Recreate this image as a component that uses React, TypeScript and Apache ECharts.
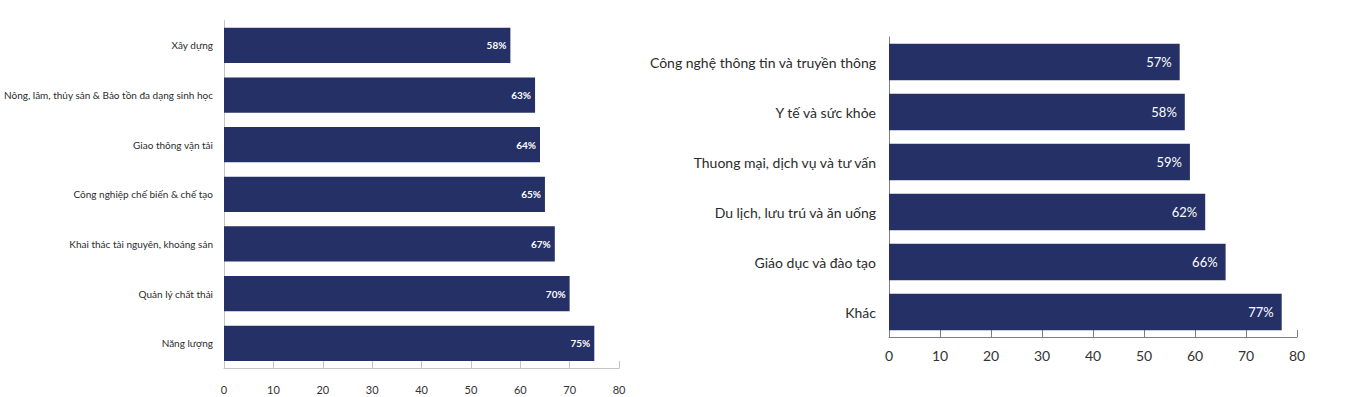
import React, { useEffect, useRef } from "react";
import * as echarts from "echarts";

const leftCategories = [
  "Xây dựng",
  "Nông, lâm, thủy sản & Bảo tồn đa dạng sinh học",
  "Giao thông vận tải",
  "Công nghiệp chế biến & chế tạo",
  "Khai thác tài nguyên, khoáng sản",
  "Quản lý chất thải",
  "Năng lượng",
];
const leftValues = [58, 63, 64, 65, 67, 70, 75];

const rightCategories = [
  "Công nghệ thông tin và truyền thông",
  "Y tế và sức khỏe",
  "Thuong mại, dịch vụ và tư vấn",
  "Du lịch, lưu trú và ăn uống",
  "Giáo dục và đào tạo",
  "Khác",
];
const rightValues = [57, 58, 59, 62, 66, 77];

const axisMin = 0;
const axisMax = 80;
const axisInterval = 10;

const BAR = "#243066";
const FONT = "Lato, 'Open Sans', sans-serif";

export default function App() {
  const ref = useRef<HTMLDivElement>(null);
  useEffect(() => {
    if (!ref.current) return;
    const chart = echarts.init(ref.current, null, { renderer: "svg" });
    chart.setOption({
      animation: false,
      backgroundColor: "#ffffff",
      textStyle: { fontFamily: FONT },
      grid: [
        { left: 224, top: 20.6, width: 395, height: 347.5, containLabel: false, outerBoundsMode: "none" },
        { left: 889, top: 37, width: 408, height: 300, containLabel: false, outerBoundsMode: "none" },
      ],
      xAxis: [
        {
          gridIndex: 0,
          type: "value",
          min: axisMin,
          max: axisMax,
          interval: axisInterval,
          axisLine: { show: true, lineStyle: { color: "#c4c4c4", width: 1 } },
          axisTick: { show: true, inside: true, length: 7, lineStyle: { color: "#c4c4c4" } },
          splitLine: { show: false },
          axisLabel: { color: "#333333", fontSize: 11, margin: 16, fontFamily: FONT },
        },
        {
          gridIndex: 1,
          type: "value",
          min: axisMin,
          max: axisMax,
          interval: axisInterval,
          axisLine: { show: true, lineStyle: { color: "#7f7f7f", width: 1 } },
          axisTick: { show: true, inside: true, length: 7, lineStyle: { color: "#7f7f7f" } },
          splitLine: { show: false },
          axisLabel: { color: "#333333", fontSize: 14, margin: 11, fontFamily: FONT },
        },
      ],
      yAxis: [
        {
          gridIndex: 0,
          type: "category",
          inverse: true,
          data: leftCategories,
          axisLine: { show: true, lineStyle: { color: "#c4c4c4" } },
          axisTick: { show: false },
          axisLabel: { color: "#2b2b2b", fontSize: 10, margin: 11, fontFamily: FONT },
        },
        {
          gridIndex: 1,
          type: "category",
          inverse: true,
          data: rightCategories,
          axisLine: { show: true, lineStyle: { color: "#7f7f7f" } },
          axisTick: { show: false },
          axisLabel: { color: "#2b2b2b", fontSize: 14, margin: 13, fontFamily: FONT },
        },
      ],
      series: [
        {
          type: "bar",
          xAxisIndex: 0,
          yAxisIndex: 0,
          data: leftValues,
          barCategoryGap: "29%",
          itemStyle: { color: BAR },
          label: {
            show: true,
            position: "insideRight",
            distance: 4,
            color: "#ffffff",
            fontWeight: "bold",
            fontSize: 10,
            fontFamily: FONT,
            formatter: "{c}%",
          },
        },
        {
          type: "bar",
          xAxisIndex: 1,
          yAxisIndex: 1,
          data: rightValues,
          barCategoryGap: "27%",
          itemStyle: { color: BAR },
          label: {
            show: true,
            position: "insideRight",
            distance: 8,
            color: "#ffffff",
            fontSize: 13,
            fontFamily: FONT,
            formatter: "{c}%",
          },
        },
      ],
    });
    return () => chart.dispose();
  }, []);
  return (
    <div
      ref={ref}
      style={{ position: "fixed", left: 0, top: 0, width: 1372, height: 397 }}
    />
  );
}
